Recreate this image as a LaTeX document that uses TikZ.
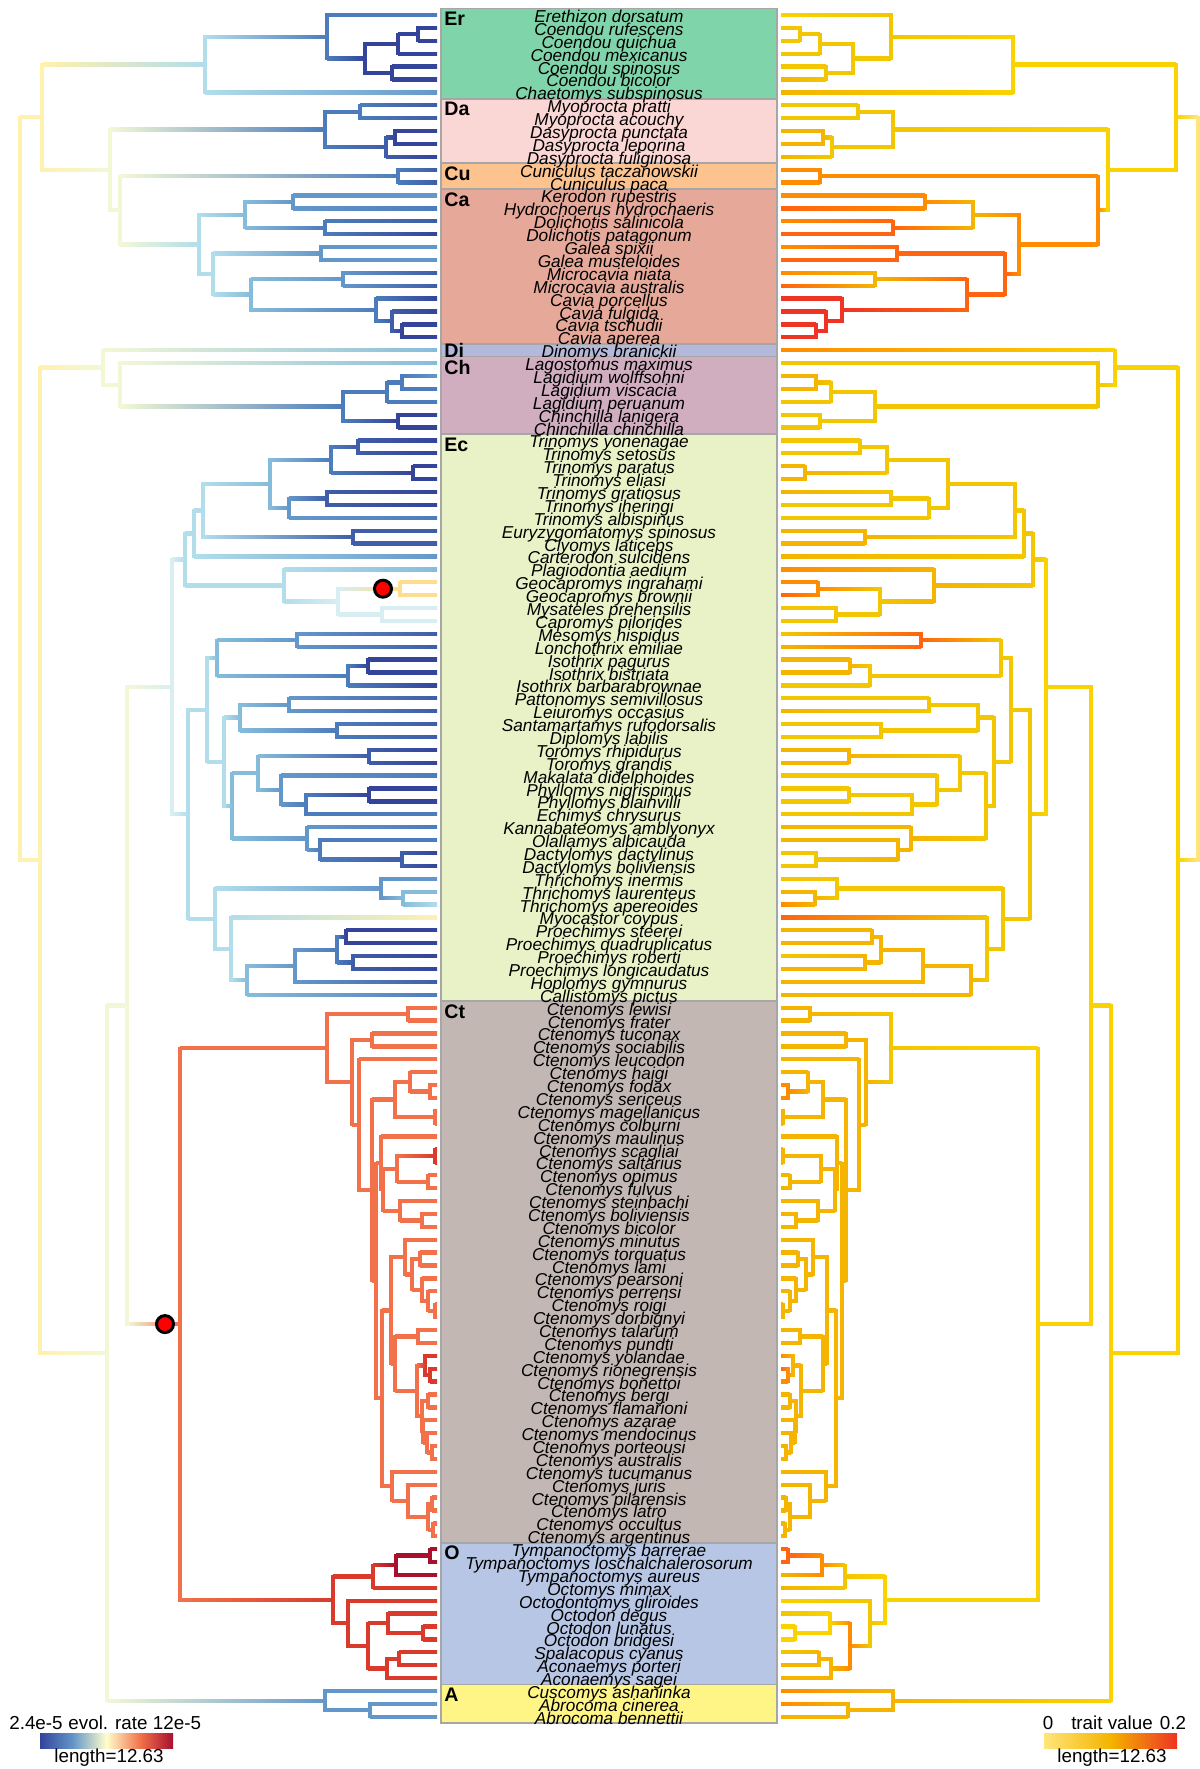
\documentclass[tikz,border=0pt]{standalone}
\usepackage{fontspec}
\setmainfont{Liberation Sans}
\usetikzlibrary{calc}

% rate colours (left tree)
\definecolor{b1}{HTML}{34449B}
\definecolor{b2}{HTML}{3F5DA8}
\definecolor{b3}{HTML}{4C7CBB}
\definecolor{b4}{HTML}{6497C9}
\definecolor{b5}{HTML}{86BCDB}
\definecolor{b6}{HTML}{B2DDEB}
\definecolor{b7}{HTML}{D8EEF2}
\definecolor{y0}{HTML}{F2F8D6}
\definecolor{y1}{HTML}{FFF1AE}
\definecolor{y2}{HTML}{FEDD8E}
\definecolor{o2}{HTML}{F2714A}
\definecolor{r1}{HTML}{D93A2B}
\definecolor{r0}{HTML}{A8102E}
% trait colours (right tree)
\definecolor{g0}{HTML}{FFE57A}
\definecolor{g1}{HTML}{F9D200}
\definecolor{g2}{HTML}{F2C600}
\definecolor{g3}{HTML}{F4B400}
\definecolor{o3}{HTML}{FF8C00}
\definecolor{o4}{HTML}{FF6410}
\definecolor{rr}{HTML}{EE3424}
% clade boxes
\definecolor{bEr}{HTML}{80D4A9}
\definecolor{bDa}{HTML}{FAD6D4}
\definecolor{bCu}{HTML}{FDC38E}
\definecolor{bCa}{HTML}{E6A898}
\definecolor{bDi}{HTML}{B4B8DB}
\definecolor{bCh}{HTML}{D1ADC0}
\definecolor{bEc}{HTML}{E9F1C6}
\definecolor{bCt}{HTML}{C2B7B3}
\definecolor{bO}{HTML}{B7C6E4}
\definecolor{bA}{HTML}{FFF587}

\newif\ifrighttree
% tip: index, rate colour, trait colour
\newcommand\tipat[3]{%
  \ifrighttree\def\xp{781}\xglobal\colorlet{ct#1}{#3}\else\def\xp{437}\xglobal\colorlet{ct#1}{#2}\fi
  \coordinate (t#1) at (\xp,{15+12.892*(#1-1)});}
% branch from parent to child, coloured along its length
\newcommand\twig[2]{%
  \coordinate (ep) at (#1 |- #2);
  \ifrighttree
    \shade[left color=c#2, right color=c#1] ($(#2)+(0,-1.65)$) rectangle ($(ep)+(0,1.65)$);
  \else
    \shade[left color=c#1, right color=c#2] ($(ep)+(0,-1.65)$) rectangle ($(#2)+(0,1.65)$);
  \fi}
% inner node: name, x, child, child, rate colour, trait colour
\newcommand\clade[6]{%
  \ifrighttree\pgfmathsetmacro\xp{1218-#2}\xglobal\colorlet{c#1}{#6}\else\def\xp{#2}\xglobal\colorlet{c#1}{#5}\fi
  \coordinate (m) at ($(#3)!.5!(#4)$);
  \coordinate (xq) at (\xp,0);
  \coordinate (#1) at (xq |- m);
  \twig{#1}{#3}\twig{#1}{#4}
  \draw[branch, c#1] (#1 |- #3) -- (#1 |- #4);}

\newcommand\drawtree{%
  % tips
  \tipat{1}{b3}{g1}
  \foreach \i in {2,...,5}{\tipat{\i}{b1}{g2}}
  \tipat{6}{b1}{g3}\tipat{7}{b4}{g3}
  \tipat{8}{b2}{g2}\tipat{9}{b2}{g2}\tipat{10}{b1}{g3}\tipat{11}{b1}{g3}\tipat{12}{b1}{g3}
  \tipat{13}{b2}{o3}\tipat{14}{b2}{o3}
  \tipat{15}{b4}{o3}\tipat{16}{b3}{o4}\tipat{17}{b2}{o3}\tipat{18}{b1}{o4}
  \tipat{19}{b4}{o3}\tipat{20}{b4}{o4}\tipat{21}{b2}{o3}\tipat{22}{b2}{o4}
  \foreach \i in {23,...,26}{\tipat{\i}{b1}{rr}}
  \tipat{27}{b5}{o3}
  \tipat{28}{b5}{g2}\tipat{29}{b4}{g3}\tipat{30}{b3}{g3}\tipat{31}{b3}{g2}\tipat{32}{b1}{g2}\tipat{33}{b1}{g2}
  \foreach \i in {34,...,77}{\tipat{\i}{b1}{g2}}
  \tipat{36}{b1}{g3}\tipat{37}{b1}{g3}\tipat{38}{b1}{g3}\tipat{40}{b3}{g2}\tipat{41}{b2}{g3}
  \tipat{42}{b2}{g3}\tipat{43}{b4}{g3}\tipat{44}{b5}{o3}\tipat{45}{y2}{o3}\tipat{46}{y2}{o4}
  \tipat{47}{b7}{g2}\tipat{48}{b7}{g2}\tipat{49}{b2}{g2}\tipat{50}{b2}{g3}\tipat{51}{b1}{g3}
  \tipat{52}{b1}{g3}\tipat{54}{b2}{g2}\tipat{55}{b2}{g3}\tipat{56}{b2}{g2}\tipat{57}{b2}{g2}
  \tipat{58}{b1}{g3}\tipat{59}{b1}{g3}\tipat{60}{b3}{g2}\tipat{63}{b3}{g2}\tipat{64}{b3}{g3}
  \tipat{65}{b3}{g3}\tipat{68}{b4}{g2}\tipat{69}{b5}{g3}\tipat{70}{b6}{o3}\tipat{71}{y1}{o4}
  \tipat{72}{b1}{g3}\tipat{73}{b1}{g3}\tipat{75}{b1}{g3}\tipat{76}{b2}{g3}\tipat{77}{b3}{g3}
  \foreach \i in {78,...,119}{\tipat{\i}{o2}{g3}}
  \tipat{84}{o2}{o3}\tipat{85}{o2}{o3}\tipat{89}{r1}{g3}\tipat{90}{r1}{g3}
  \tipat{105}{r1}{o3}\tipat{106}{r1}{o4}\tipat{107}{r1}{o3}
  \tipat{120}{r0}{o4}\tipat{121}{r0}{o4}\tipat{122}{r0}{g3}\tipat{123}{r1}{g3}\tipat{124}{r1}{g1}
  \tipat{125}{r1}{g2}\tipat{126}{r1}{g1}\tipat{127}{r1}{g1}\tipat{128}{r1}{g2}\tipat{129}{r1}{g3}
  \tipat{130}{r1}{g3}
  \tipat{131}{b4}{o3}\tipat{132}{b4}{o3}\tipat{133}{b4}{g3}
  % Erethizontidae
  \clade{e1}{418}{t2}{t3}{b1}{g2}
  \clade{e2}{398}{e1}{t4}{b1}{g2}
  \clade{e3}{392}{t5}{t6}{b1}{g2}
  \clade{e4}{365}{e2}{e3}{b1}{g2}
  \clade{e5}{327}{t1}{e4}{b3}{g2}
  \clade{Er}{205}{e5}{t7}{b6}{g1}
  % Dasyproctidae, Cuniculidae, Caviidae
  \clade{d1}{360}{t8}{t9}{b3}{g2}
  \clade{d2}{395}{t10}{t11}{b1}{g3}
  \clade{d3}{386}{d2}{t12}{b2}{g2}
  \clade{Da}{325}{d1}{d3}{b3}{g2}
  \clade{Cu}{398}{t13}{t14}{b3}{o3}
  \clade{c1}{293}{t15}{t16}{b4}{o3}
  \clade{c2}{325}{t17}{t18}{b3}{o4}
  \clade{c3}{245}{c1}{c2}{b5}{g3}
  \clade{c4}{321}{t19}{t20}{b4}{o4}
  \clade{c5}{343}{t21}{t22}{b4}{g3}
  \clade{c6}{402}{t25}{t26}{b1}{rr}
  \clade{c7}{392}{t24}{c6}{b2}{rr}
  \clade{c8}{376}{t23}{c7}{b3}{rr}
  \clade{c9}{251}{c5}{c8}{b5}{o4}
  \clade{c10}{213}{c4}{c9}{b6}{o4}
  \clade{Ca}{199}{c3}{c10}{b6}{o3}
  \clade{CuCa}{120}{Cu}{Ca}{y0}{o3}
  \clade{Cav}{110}{Da}{CuCa}{y0}{g1}
  \clade{EC}{42}{Er}{Cav}{y1}{g1}
  % Dinomyidae, Chinchillidae
  \clade{h1}{402}{t29}{t30}{b3}{g3}
  \clade{h2}{387}{h1}{t31}{b3}{g2}
  \clade{h3}{398}{t32}{t33}{b1}{g2}
  \clade{Ch}{343}{h2}{h3}{b3}{g2}
  \clade{h4}{120}{t28}{Ch}{y0}{g2}
  \clade{DiCh}{103}{t27}{h4}{y0}{g1}
  % Echimyidae
  \clade{x1}{358}{t34}{t35}{b2}{g2}
  \clade{x2}{413}{t36}{t37}{b1}{g3}
  \clade{x3}{331}{x1}{x2}{b3}{g2}
  \clade{x4}{327}{t38}{t39}{b2}{g2}
  \clade{x5}{289}{x4}{t40}{b4}{g2}
  \clade{x6}{270}{x3}{x5}{b5}{g2}
  \clade{x7}{353}{t41}{t42}{b2}{g3}
  \clade{x8}{203}{x6}{x7}{b6}{g2}
  \clade{x9}{194}{x8}{t43}{b6}{g2}
  \clade{x10}{400}{t45}{t46}{y2}{o3}
  \clade{x11}{382}{t47}{t48}{b7}{g2}
  \clade{x12}{338}{x10}{x11}{b7}{g2}
  \clade{Cap}{284}{t44}{x12}{b6}{g3}
  \clade{x13}{185}{x9}{Cap}{b6}{g2}
  \clade{x14}{297}{t49}{t50}{b4}{o4}
  \clade{x15}{368}{t51}{t52}{b1}{g3}
  \clade{x16}{348}{x15}{t53}{b3}{g2}
  \clade{x17}{217}{x14}{x16}{b5}{g2}
  \clade{x18}{289}{t54}{t55}{b4}{g2}
  \clade{x19}{337}{t56}{t57}{b3}{g2}
  \clade{x20}{240}{x18}{x19}{b5}{g2}
  \clade{x21}{369}{t58}{t59}{b2}{g3}
  \clade{x22}{369}{t61}{t62}{b1}{g2}
  \clade{x23}{306}{x22}{t63}{b3}{g2}
  \clade{x24}{281}{t60}{x23}{b4}{g2}
  \clade{x25}{258}{x21}{x24}{b5}{g2}
  \clade{x26}{402}{t66}{t67}{b2}{g2}
  \clade{x27}{320}{t65}{x26}{b3}{g3}
  \clade{x28}{307}{t64}{x27}{b4}{g3}
  \clade{x29}{232}{x25}{x28}{b5}{g2}
  \clade{x30}{224}{x20}{x29}{b6}{g2}
  \clade{x31}{207}{x17}{x30}{b6}{g2}
  \clade{x32}{403}{t69}{t70}{b5}{g3}
  \clade{x33}{381}{t68}{x32}{b4}{g2}
  \clade{x34}{346}{t72}{t73}{b1}{g3}
  \clade{x35}{353}{t74}{t75}{b2}{g3}
  \clade{x36}{337}{x34}{x35}{b3}{g3}
  \clade{x37}{295}{x36}{t76}{b4}{g3}
  \clade{x38}{247}{x37}{t77}{b5}{g3}
  \clade{x39}{231}{t71}{x38}{b6}{g2}
  \clade{x40}{215}{x33}{x39}{b6}{g2}
  \clade{x41}{188}{x31}{x40}{b6}{g2}
  \clade{Ec}{172}{x13}{x41}{b7}{g1}
  % Ctenomyidae
  \clade{k1}{408}{t78}{t79}{o2}{g3}
  \clade{k2}{372}{t80}{t81}{o2}{g3}
  \clade{k3}{430}{t84}{t85}{o2}{o3}
  \clade{k4}{410}{t83}{k3}{o2}{g3}
  \clade{k5}{435}{t86}{t87}{o2}{g3}
  \clade{k6}{395}{k4}{k5}{o2}{g3}
  \clade{k7}{435}{t89}{t90}{r1}{g3}
  \clade{k8}{428}{t91}{t92}{o2}{g3}
  \clade{k9}{397}{k7}{k8}{o2}{g3}
  \clade{k10}{422}{t94}{t95}{o2}{g3}
  \clade{k11}{400}{t93}{k10}{o2}{g3}
  \clade{k12}{383}{k9}{k11}{o2}{g3}
  \clade{k13}{381}{t88}{k12}{o2}{g3}
  \clade{k14}{420}{t97}{t98}{o2}{g3}
  \clade{k15}{435}{t101}{t102}{o2}{g3}
  \clade{k16}{428}{t100}{k15}{o2}{g3}
  \clade{k17}{422}{t99}{k16}{o2}{g3}
  \clade{k18}{412}{k14}{k17}{o2}{g3}
  \clade{k19}{405}{t96}{k18}{o2}{g3}
  \clade{k20}{418}{t103}{t104}{o2}{g3}
  \clade{k21}{430}{t106}{t107}{r1}{o3}
  \clade{k22}{425}{t105}{k21}{r1}{g3}
  \clade{k23}{428}{t108}{t109}{o2}{g3}
  \clade{k24}{432}{t112}{t113}{o2}{g3}
  \clade{k25}{427}{t111}{k24}{o2}{g3}
  \clade{k26}{423}{t110}{k25}{o2}{g3}
  \clade{k27}{422}{k23}{k26}{o2}{g3}
  \clade{k28}{417}{k22}{k27}{o2}{g3}
  \clade{k29}{395}{k20}{k28}{o2}{g3}
  \clade{k30}{391}{k19}{k29}{o2}{g3}
  \clade{k31}{432}{t116}{t117}{o2}{g3}
  \clade{k32}{433}{t118}{t119}{o2}{g3}
  \clade{k33}{428}{k31}{k32}{o2}{g3}
  \clade{k34}{408}{t115}{k33}{o2}{g3}
  \clade{k35}{392}{t114}{k34}{o2}{g3}
  \clade{k36}{382}{k30}{k35}{o2}{g3}
  \clade{k37}{376}{k13}{k36}{o2}{g3}
  \clade{k38}{372}{k6}{k37}{o2}{g3}
  \clade{k39}{359}{t82}{k38}{o2}{g3}
  \clade{k40}{352}{k2}{k39}{o2}{g3}
  \clade{Ct}{327}{k1}{k40}{o2}{g2}
  % Octodontidae
  \clade{q1}{430}{t120}{t121}{r0}{o4}
  \clade{q2}{396}{q1}{t122}{r0}{o3}
  \clade{q3}{373}{q2}{t123}{r1}{g2}
  \clade{q4}{423}{t126}{t127}{r1}{g1}
  \clade{q5}{388}{t125}{q4}{r1}{g1}
  \clade{q6}{399}{t128}{t129}{r1}{g3}
  \clade{q7}{387}{q6}{t130}{r1}{g3}
  \clade{q8}{368}{q5}{q7}{r1}{o3}
  \clade{q9}{348}{t124}{q8}{r1}{g2}
  \clade{Oc}{333}{q3}{q9}{r1}{g1}
  \clade{CtO}{180}{Ct}{Oc}{o2}{g1}
  \clade{EcCt}{127}{Ec}{CtO}{y0}{g1}
  % Abrocomidae and deep nodes
  \clade{a1}{370}{t132}{t133}{b4}{g3}
  \clade{Ab}{325}{t131}{a1}{b4}{g3}
  \clade{n107}{107}{EcCt}{Ab}{y0}{g1}
  \clade{n40}{40}{DiCh}{n107}{y1}{g1}
  \clade{root}{20}{EC}{n40}{y1}{g0}}

\begin{document}
\begin{tikzpicture}[x=0.5pt, y=-0.5pt,
    species/.style={font=\fontsize{8.6}{8.6}\selectfont\itshape, inner sep=0pt, anchor=base},
    cladelab/.style={font=\fontsize{9.8}{9.8}\selectfont\bfseries, inner sep=0pt, anchor=west},
    cladebox/.style={draw=gray!70, line width=0.8pt},
    branch/.style={line width=1.65pt, line cap=rect},
    shiftdot/.style={circle, fill=red, draw=black, line width=1.5pt, minimum size=8.5pt, inner sep=0pt},
    legend/.style={font=\fontsize{9.4}{9.4}\selectfont, inner sep=0pt}]
  \useasboundingbox (0,0) rectangle (1200,1769);

  % clade boxes
  \foreach \lab/\a/\b in {Er/1/7, Da/8/12, Cu/13/14, Ca/15/26, Di/27/27, Ch/28/33,
      Ec/34/77, Ct/78/119, O/120/130, A/131/133}
    \path[cladebox, fill=b\lab] (441,{15+12.892*(\a-1)-6.45}) rectangle (777,{15+12.892*(\b-1)+6.45});
  \foreach \lab/\a/\d in {Er/1/4, Da/8/4, Cu/13/4, Ca/15/4, Di/27/0, Ch/28/4, Ec/34/4,
      Ct/78/4, O/120/4, A/131/4}
    \node[cladelab] (lab\lab) at (444,{15+12.892*(\a-1)+\d}) {\lab};

  % evolutionary rate tree (left)
  \righttreefalse
  \drawtree
  \node[shiftdot] (shift1) at (383,588.7) {};
  \coordinate (s2) at (165,0);
  \node[shiftdot] (shift2) at (s2 |- CtO) {};

  % trait value tree (right)
  \righttreetrue
  \drawtree

  % species names
  \foreach \nm [count=\i] in {Erethizon dorsatum, Coendou rufescens, Coendou quichua,
      Coendou mexicanus, Coendou spinosus, Coendou bicolor, Chaetomys subspinosus,
      Myoprocta pratti, Myoprocta acouchy, Dasyprocta punctata, Dasyprocta leporina,
      Dasyprocta fuliginosa, Cuniculus taczanowskii, Cuniculus paca, Kerodon rupestris,
      Hydrochoerus hydrochaeris, Dolichotis salinicola, Dolichotis patagonum, Galea spixii,
      Galea musteloides, Microcavia niata, Microcavia australis, Cavia porcellus,
      Cavia fulgida, Cavia tschudii, Cavia aperea, Dinomys branickii, Lagostomus maximus,
      Lagidium wolffsohni, Lagidium viscacia, Lagidium peruanum, Chinchilla lanigera,
      Chinchilla chinchilla, Trinomys yonenagae, Trinomys setosus, Trinomys paratus,
      Trinomys eliasi, Trinomys gratiosus, Trinomys iheringi, Trinomys albispinus,
      Euryzygomatomys spinosus, Clyomys laticeps, Carterodon sulcidens, Plagiodontia aedium,
      Geocapromys ingrahami, Geocapromys brownii, Mysateles prehensilis, Capromys pilorides,
      Mesomys hispidus, Lonchothrix emiliae, Isothrix pagurus, Isothrix bistriata,
      Isothrix barbarabrownae, Pattonomys semivillosus, Leiuromys occasius,
      Santamartamys rufodorsalis, Diplomys labilis, Toromys rhipidurus, Toromys grandis,
      Makalata didelphoides, Phyllomys nigrispinus, Phyllomys blainvilli, Echimys chrysurus,
      Kannabateomys amblyonyx, Olallamys albicauda, Dactylomys dactylinus,
      Dactylomys boliviensis, Thrichomys inermis, Thrichomys laurenteus,
      Thrichomys apereoides, Myocastor coypus, Proechimys steerei, Proechimys quadruplicatus,
      Proechimys roberti, Proechimys longicaudatus, Hoplomys gymnurus, Callistomys pictus,
      Ctenomys lewisi, Ctenomys frater, Ctenomys tuconax, Ctenomys sociabilis,
      Ctenomys leucodon, Ctenomys haigi, Ctenomys fodax, Ctenomys sericeus,
      Ctenomys magellanicus, Ctenomys colburni, Ctenomys maulinus, Ctenomys scagliai,
      Ctenomys saltarius, Ctenomys opimus, Ctenomys fulvus, Ctenomys steinbachi,
      Ctenomys boliviensis, Ctenomys bicolor, Ctenomys minutus, Ctenomys torquatus,
      Ctenomys lami, Ctenomys pearsoni, Ctenomys perrensi, Ctenomys roigi,
      Ctenomys dorbignyi, Ctenomys talarum, Ctenomys pundti, Ctenomys yolandae,
      Ctenomys rionegrensis, Ctenomys bonettoi, Ctenomys bergi, Ctenomys flamarioni,
      Ctenomys azarae, Ctenomys mendocinus, Ctenomys porteousi, Ctenomys australis,
      Ctenomys tucumanus, Ctenomys juris, Ctenomys pilarensis, Ctenomys latro,
      Ctenomys occultus, Ctenomys argentinus, Tympanoctomys barrerae,
      Tympanoctomys loschalchalerosorum, Tympanoctomys aureus, Octomys mimax,
      Octodontomys gliroides, Octodon degus, Octodon lunatus, Octodon bridgesi,
      Spalacopus cyanus, Aconaemys porteri, Aconaemys sagei, Cuscomys ashaninka,
      Abrocoma cinerea, Abrocoma bennettii}
    \node[species] (sp\i) at (609,{15+12.892*(\i-1)+7.5}) {\nm};

  % legends
  \shade[left color=b1, right color=b4] (40,1733) rectangle (73.5,1748);
  \shade[left color=b4, right color=white!60!yellow!50] (73,1733) rectangle (106.5,1748);
  \shade[left color=white!60!yellow!50, right color=o2] (106,1733) rectangle (140.5,1748);
  \shade[left color=o2, right color=r0] (140,1733) rectangle (173,1748);
  \node[legend] (ratelo) at (36,1723) {2.4e-5};
  \node[legend] (ratelab) at (108,1723) {evol. rate};
  \node[legend] (ratehi) at (177,1723) {12e-5};
  \node[legend] (ratelen) at (109,1758) {length=12.63};
  \shade[left color=g0, right color=g3] (1044,1733) rectangle (1110.5,1748);
  \shade[left color=g3, right color=rr] (1110,1733) rectangle (1177,1748);
  \node[legend] (traitlo) at (1048,1723) {0};
  \node[legend] (traitlab) at (1112,1723) {trait value};
  \node[legend] (traithi) at (1173,1723) {0.2};
  \node[legend] (traitlen) at (1112,1758) {length=12.63};
\end{tikzpicture}
\end{document}
